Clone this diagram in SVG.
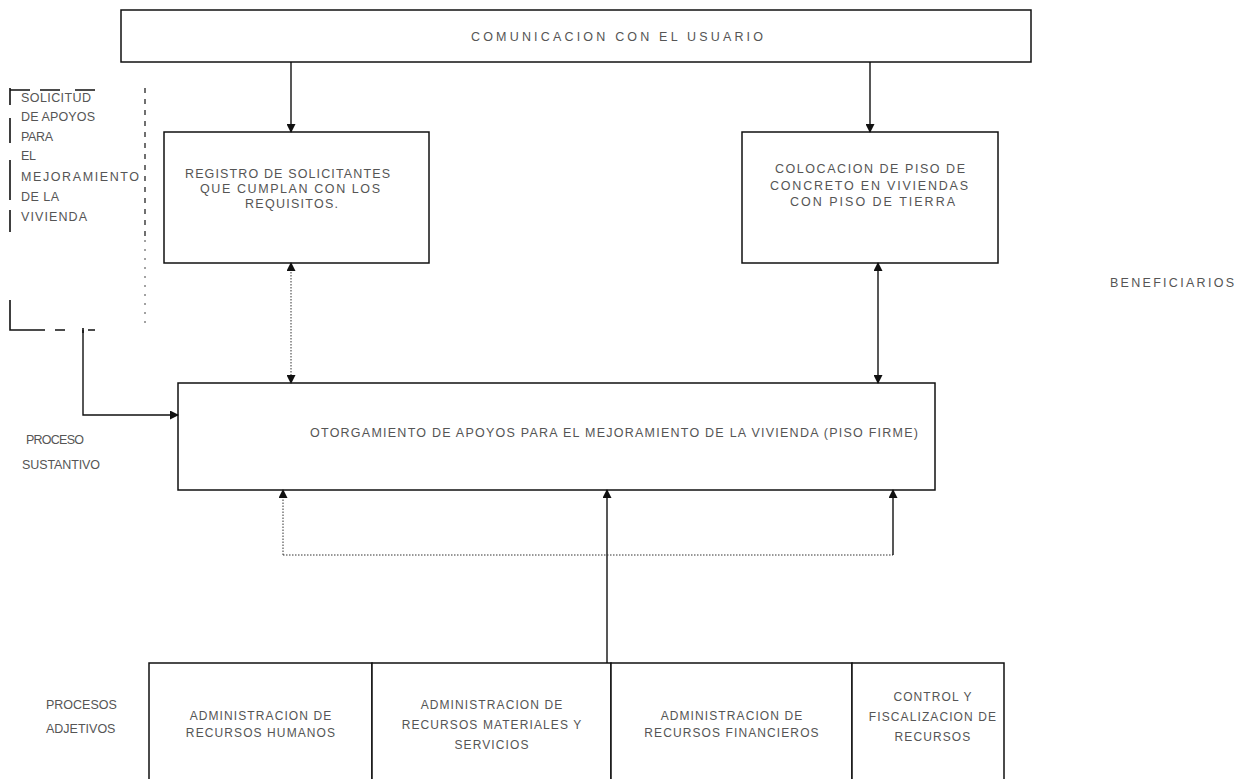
<svg xmlns="http://www.w3.org/2000/svg" width="1238" height="779" viewBox="0 0 1238 779">
<style>
  .box { fill: #ffffff; stroke: #111; stroke-width: 1.5; }
  .t { font-family: "Liberation Sans", Arial, sans-serif; font-size: 12.5px; fill: #555; }
  .s { font-size: 12px; letter-spacing: 1.1px; text-anchor: middle; }
  .ln { fill: none; stroke: #111; stroke-width: 1.4; }
  .dot { fill: none; stroke: #333; stroke-width: 1; stroke-dasharray: 1.5 1.5; }
  .edge { fill: none; stroke: #111; stroke-width: 1.6; }
</style>
<defs>
  <marker id="ah" markerWidth="9" markerHeight="9" refX="8" refY="4.5" orient="auto-start-reverse" markerUnits="userSpaceOnUse">
    <path d="M0,0 L9,4.5 L0,9 z" fill="#111"/>
  </marker>
</defs>
<rect width="1238" height="779" fill="#ffffff"/>

<g id="comunicacion">
  <rect class="box" x="121" y="10" width="910" height="52"/>
  <text class="t" x="471" y="41" textLength="292" lengthAdjust="spacing" font-size="14">COMUNICACION CON EL USUARIO</text>
</g>

<g id="solicitud">
  <path class="edge" d="M10,88 V105 M10,118 V143 M10,160 V200 M10,210 V232 M10,300 V330 H45"/>
  <path class="edge" d="M10,90 H30 M40,90 H60 M75,90 H95 M55,330 H65 M83,328 V333 M88,330 H95"/>
  <path fill="none" stroke="#111" stroke-width="1.2" stroke-dasharray="5 6" d="M145,88 V240"/>
  <path fill="none" stroke="#444" stroke-width="1" stroke-dasharray="2 7" d="M145,240 V325"/>
  <text class="t" x="21" y="102" font-size="12" textLength="70" lengthAdjust="spacing">SOLICITUD</text>
  <text class="t" x="21" y="121" font-size="12" textLength="74" lengthAdjust="spacing">DE APOYOS</text>
  <text class="t" x="21" y="141" font-size="12" textLength="32" lengthAdjust="spacing">PARA</text>
  <text class="t" x="21" y="160" font-size="12" textLength="15" lengthAdjust="spacing">EL</text>
  <text class="t" x="21" y="181" font-size="12" textLength="118" lengthAdjust="spacing">MEJORAMIENTO</text>
  <text class="t" x="21" y="201" font-size="12" textLength="38" lengthAdjust="spacing">DE LA</text>
  <text class="t" x="21" y="221" font-size="12" textLength="66" lengthAdjust="spacing">VIVIENDA</text>
</g>

<g id="registro">
  <rect class="box" x="164" y="132" width="265" height="131"/>
  <text class="t" x="185" y="178" textLength="205" lengthAdjust="spacing">REGISTRO DE SOLICITANTES</text>
  <text class="t" x="200" y="193" textLength="180" lengthAdjust="spacing">QUE CUMPLAN CON LOS</text>
  <text class="t" x="245" y="208" textLength="93" lengthAdjust="spacing">REQUISITOS.</text>
</g>

<g id="colocacion">
  <rect class="box" x="742" y="132" width="256" height="131"/>
  <text class="t" x="775" y="173" textLength="190" lengthAdjust="spacing">COLOCACION DE PISO DE</text>
  <text class="t" x="770" y="190" textLength="198" lengthAdjust="spacing">CONCRETO EN VIVIENDAS</text>
  <text class="t" x="790" y="206" textLength="165" lengthAdjust="spacing">CON PISO DE TIERRA</text>
</g>

<g id="beneficiarios">
  <text class="t" x="1110" y="287" font-size="11.5" textLength="124" lengthAdjust="spacing">BENEFICIARIOS</text>
</g>

<g id="otorgamiento">
  <rect class="box" x="178" y="383" width="757" height="107"/>
  <text class="t" x="310" y="437" textLength="608" lengthAdjust="spacing">OTORGAMIENTO DE APOYOS PARA EL MEJORAMIENTO DE LA VIVIENDA (PISO FIRME)</text>
</g>

<g id="proceso-sustantivo">
  <text class="t" x="26" y="444" font-size="11" textLength="58" lengthAdjust="spacing">PROCESO</text>
  <text class="t" x="22" y="469" font-size="11" textLength="78" lengthAdjust="spacing">SUSTANTIVO</text>
</g>

<g id="procesos-adjetivos">
  <text class="t" x="46" y="709" font-size="10.5">PROCESOS</text>
  <text class="t" x="46" y="733" font-size="10.5">ADJETIVOS</text>
</g>

<g id="rrhh">
  <path class="box" d="M149,779 V663 H372 V779"/>
  <text class="t s" x="261" y="720">ADMINISTRACION DE</text>
  <text class="t s" x="261" y="737">RECURSOS HUMANOS</text>
</g>

<g id="materiales">
  <path class="box" d="M372,779 V663 H611 V779"/>
  <text class="t s" x="492" y="709">ADMINISTRACION DE</text>
  <text class="t s" x="492" y="729">RECURSOS MATERIALES Y</text>
  <text class="t s" x="492" y="749">SERVICIOS</text>
</g>

<g id="financieros">
  <path class="box" d="M611,779 V663 H852 V779"/>
  <text class="t s" x="732" y="720">ADMINISTRACION DE</text>
  <text class="t s" x="732" y="737">RECURSOS FINANCIEROS</text>
</g>

<g id="control">
  <path class="box" d="M852,779 V663 H1004 V779"/>
  <text class="t s" x="933" y="701">CONTROL Y</text>
  <text class="t s" x="933" y="721">FISCALIZACION DE</text>
  <text class="t s" x="933" y="741">RECURSOS</text>
</g>

<g id="connectors">
  <path class="ln" d="M291,62 V132" marker-end="url(#ah)"/>
  <path class="ln" d="M870,62 V132" marker-end="url(#ah)"/>
  <path class="dot" d="M291,263 V383" marker-start="url(#ah)" marker-end="url(#ah)"/>
  <path class="ln" d="M878,263 V383" marker-start="url(#ah)" marker-end="url(#ah)"/>
  <path class="ln" d="M83,330 V415 H178" marker-end="url(#ah)"/>
  <path class="ln" d="M607,663 V490" marker-end="url(#ah)"/>
  <path class="dot" d="M283,555 V490" marker-end="url(#ah)"/>
  <path class="dot" d="M283,555 H893"/>
  <path class="ln" d="M893,555 V490" marker-end="url(#ah)"/>
</g>
</svg>
